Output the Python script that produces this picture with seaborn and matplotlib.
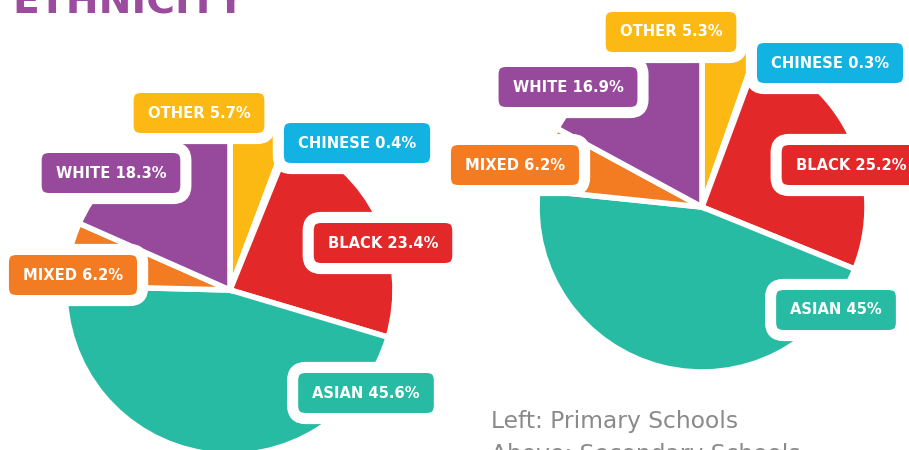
import matplotlib
matplotlib.use("Agg")
import matplotlib.pyplot as plt
from matplotlib.patches import FancyBboxPatch
import seaborn as sns

# Ethnic make-up of pupils (percent)
categories = ["OTHER", "CHINESE", "BLACK", "ASIAN", "MIXED", "WHITE"]
primary = [5.7, 0.4, 23.4, 45.6, 6.2, 18.3]
secondary = [5.3, 0.3, 25.2, 45.0, 6.2, 16.9]

title = "ETHNICITY"
caption_lines = ["Left: Primary Schools", "Above: Secondary Schools"]

sns.set_theme(style="white")
plt.rcParams["font.family"] = ["DejaVu Sans"]

palette = sns.color_palette(["#FDB913", "#12B2E2", "#E22828",
                             "#28BBA4", "#F37C22", "#974A9B"])

W, H = 909, 450
fig = plt.figure(figsize=(W / 100, H / 100), dpi=100)
ax = fig.add_axes([0, 0, 1, 1])

RADIUS = 165
EDGE_LW = 4.0


def py(y):
    """Convert a top-origin pixel row to the axes' y coordinate."""
    return H - y


# pie centres (pixels, origin top-left) and label box centres per slice
pies = [
    dict(values=primary, center=(230, 290),
         labels=[(199, 113), (357, 143), (383, 243), (366, 393), (73, 275), (111, 173)]),
    dict(values=secondary, center=(702, 207),
         labels=[(671, 32), (830, 63), (851, 165), (836, 310), (515, 165), (568, 87)]),
]

for p in pies:
    cx, cy = p["center"]
    ax.pie(p["values"], colors=palette, startangle=90, counterclock=False,
           center=(cx, py(cy)), radius=RADIUS,
           wedgeprops=dict(edgecolor="white", linewidth=EDGE_LW), frame=True)

ax.set_xlim(0, W)
ax.set_ylim(0, H)
ax.set_aspect("auto")
ax.axis("off")

renderer = fig.canvas.get_renderer()
BOX_H = 40
PAD_X = 14
BOX_LW = 8

for p in pies:
    for cat, val, color, (lx, ly) in zip(categories, p["values"], palette, p["labels"]):
        t = ax.text(lx, py(ly), f"{cat} {val:g}%", ha="center", va="center",
                    fontsize=10.6, fontweight="bold", color="white", zorder=6)
        bb = t.get_window_extent(renderer)
        w = bb.width + 2 * PAD_X
        lw_px = BOX_LW * 100 / 72
        box = FancyBboxPatch((lx - w / 2 - lw_px / 2, py(ly) - BOX_H / 2 - lw_px / 2),
                             w + lw_px, BOX_H + lw_px,
                             boxstyle="round,pad=0,rounding_size=13",
                             facecolor=color, edgecolor="white", linewidth=BOX_LW,
                             zorder=5)
        ax.add_patch(box)

ax.text(12, py(13), title, ha="left", va="baseline", fontsize=28.3,
        fontweight="bold", color="#9B4C9E", zorder=7)

for i, line in enumerate(caption_lines):
    ax.text(491, py(428 + 33 * i), line, ha="left", va="baseline",
            fontsize=16.8, color="#8A8A8A", zorder=7)

fig.savefig("out.png", dpi=100)
